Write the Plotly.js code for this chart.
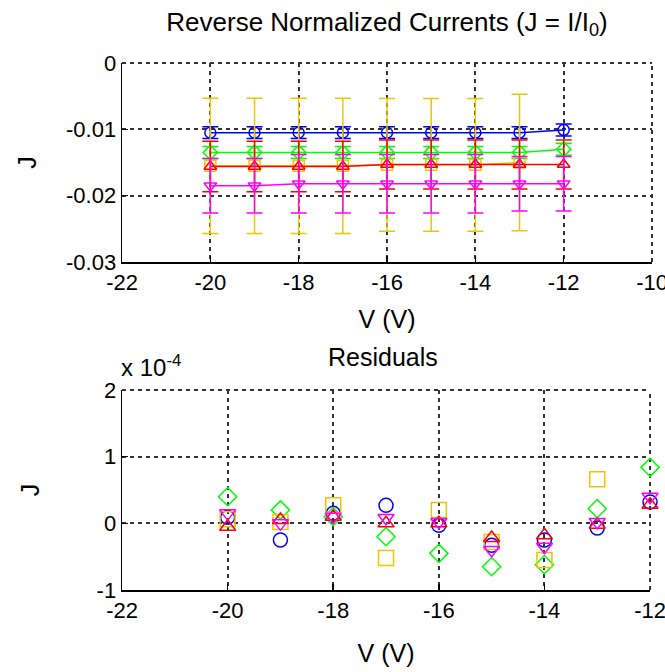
<!DOCTYPE html>
<html>
<head>
<meta charset="utf-8">
<script src="https://cdn.plot.ly/plotly-3.0.1.min.js"></script>
<style>html,body{margin:0;padding:0;background:#fff;}#chart{width:665px;height:672px;}</style>
</head>
<body>
<div id="chart"></div>
<script>
// ---- data ----
const voltage = [-20, -19, -18, -17, -16, -15, -14, -13, -12];
const voltageYellow = [-20, -19, -18, -17, -16, -15, -14, -13];

// Top: normalized currents J and their error bars
const jBlue    = [-0.0105, -0.0105, -0.0105, -0.0105, -0.0105, -0.0105, -0.0105, -0.0105, -0.0101];
const errBlue  = [0.0009, 0.0009, 0.0009, 0.0009, 0.0009, 0.0009, 0.0009, 0.0009, 0.0009];
const jGreen   = [-0.0135, -0.0135, -0.0135, -0.0135, -0.0135, -0.0135, -0.0135, -0.0135, -0.0130];
const errGreen = [0.0009, 0.0009, 0.0009, 0.0009, 0.0009, 0.0009, 0.0009, 0.0009, 0.0009];
const jYellow  = [-0.0155, -0.0155, -0.0155, -0.0155, -0.01535, -0.01535, -0.01535, -0.0150];
const errYellow= [0.0102, 0.0102, 0.0102, 0.0102, 0.0100, 0.0100, 0.0100, 0.0103];
const jRed     = [-0.0156, -0.0156, -0.0156, -0.0156, -0.0153, -0.0153, -0.0153, -0.0153, -0.0153];
const errRed   = [0.0038, 0.0038, 0.0038, 0.0038, 0.0037, 0.0037, 0.0037, 0.0037, 0.0037];
const jMagenta = [-0.0185, -0.0185, -0.0182, -0.0182, -0.0182, -0.0182, -0.0182, -0.0182, -0.0182];
const errMagenta=[0.0041, 0.0041, 0.0044, 0.0044, 0.0044, 0.0044, 0.0044, 0.0041, 0.0041];

// Bottom: residuals (in units of 1e-4)
const resBlue    = [0.09, -0.25, 0.15, 0.27, -0.03, -0.33, -0.25, -0.07, 0.32];
const resGreen   = [0.40, 0.20, 0.10, -0.20, -0.45, -0.65, -0.62, 0.22, 0.84];
const resYellow  = [0.06, 0.02, 0.27, -0.52, 0.20, -0.28, -0.55, 0.66];
const resRed     = [-0.05, 0.05, 0.10, 0.0, 0.0, -0.22, -0.18, -0.02, 0.28];
const resMagenta = [0.15, 0.0, 0.10, 0.08, 0.02, -0.40, -0.35, 0.02, 0.40];

// tick labels
const topXTicks = [-22, -20, -18, -16, -14, -12, -10];
const topXText  = ['-22', '-20', '-18', '-16', '-14', '-12', '-10'];
const topYTicks = [0, -0.01, -0.02, -0.03];
const topYText  = ['0', '-0.01', '-0.02', '-0.03'];
const botXTicks = [-22, -20, -18, -16, -14, -12];
const botXText  = ['-22', '-20', '-18', '-16', '-14', '-12'];
const botYTicks = [-1, 0, 1, 2];
const botYText  = ['-1', '0', '1', '2'];

// ---- styling ----
const C = {blue:'#0000ff', green:'#00ff00', yellow:'#ecc700', red:'#ff0000', magenta:'#ff00ff'};
const FONT = 'Liberation Sans, Arial, sans-serif';
const GRID = '#333';

function topTrace(x, y, err, color, symbol) {
  return {
    x: x, y: y, xaxis: 'x', yaxis: 'y', type: 'scatter', mode: 'lines+markers',
    line: {color: color, width: 1.5},
    marker: {symbol: symbol, size: 11, color: color, line: {color: color, width: 1.5}},
    error_y: {type: 'data', array: err, visible: true, color: color, thickness: 1.5, width: 8},
    showlegend: false, cliponaxis: false
  };
}
function botTrace(x, y, color, symbol, size) {
  return {
    x: x, y: y, xaxis: 'x2', yaxis: 'y2', type: 'scatter', mode: 'markers',
    marker: {symbol: symbol, size: size, color: color, line: {color: color, width: 1.5}},
    showlegend: false, cliponaxis: false
  };
}

const data = [
  topTrace(voltage, jBlue, errBlue, C.blue, 'circle-open'),
  topTrace(voltage, jGreen, errGreen, C.green, 'diamond-open'),
  topTrace(voltageYellow, jYellow, errYellow, C.yellow, 'square-open'),
  topTrace(voltage, jRed, errRed, C.red, 'triangle-up-open'),
  topTrace(voltage, jMagenta, errMagenta, C.magenta, 'triangle-down-open'),
  botTrace(voltage, resBlue, C.blue, 'circle-open', 14),
  botTrace(voltage, resGreen, C.green, 'diamond-open', 14),
  botTrace(voltageYellow, resYellow, C.yellow, 'square-open', 15),
  botTrace(voltage, resRed, C.red, 'triangle-up-open', 14),
  botTrace(voltage, resMagenta, C.magenta, 'triangle-down-open', 14)
];

const axisCommon = {
  showline: true, linecolor: '#000', linewidth: 1.5, mirror: false,
  ticks: 'inside', ticklen: 6, tickcolor: '#000', tickwidth: 1.5,
  showgrid: true, gridcolor: GRID, gridwidth: 2, griddash: '4px,4px',
  zeroline: false, tickfont: {family: FONT, size: 22, color: '#000'},
  ticklabeloverflow: 'allow', fixedrange: true
};

// dashed frame edges at top and right (MATLAB grid at the box edges)
function edge(xr, yr, x0, x1, y0, y1) {
  return {type: 'line', xref: xr, yref: yr, x0: x0, x1: x1, y0: y0, y1: y1,
          line: {color: GRID, width: 2, dash: '4px,4px'}, layer: 'below'};
}

const layout = {
  width: 665, height: 672,
  margin: {l: 0, r: 0, t: 0, b: 0},
  paper_bgcolor: '#fff', plot_bgcolor: '#fff',
  font: {family: FONT, size: 22, color: '#000'},
  title: {text: 'Reverse Normalized Currents (J = I/I<sub>0</sub>)', x: 0.582, xanchor: 'center', y: 0.968, yanchor: 'middle', font: {family: FONT, size: 26, color: '#000'}},
  xaxis: Object.assign({}, axisCommon, {
    domain: [0.1835, 0.9805], anchor: 'y', range: [-22, -10],
    tickmode: 'array', tickvals: topXTicks, ticktext: topXText,
    title: {text: 'V (V)', standoff: 16, font: {family: FONT, size: 25}}
  }),
  yaxis: Object.assign({}, axisCommon, {
    domain: [0.6101, 0.9063], anchor: 'x', range: [-0.03, 0],
    tickmode: 'array', tickvals: topYTicks, ticktext: topYText,
    title: {text: 'J', standoff: 22, font: {family: FONT, size: 25}}
  }),
  xaxis2: Object.assign({}, axisCommon, {
    domain: [0.1835, 0.9775], anchor: 'y2', range: [-22, -12],
    tickmode: 'array', tickvals: botXTicks, ticktext: botXText,
    title: {text: 'V (V)', standoff: 22, font: {family: FONT, size: 25}}
  }),
  yaxis2: Object.assign({}, axisCommon, {
    domain: [0.1220, 0.4196], anchor: 'x2', range: [-1, 2],
    tickmode: 'array', tickvals: botYTicks, ticktext: botYText,
    title: {text: 'J', standoff: 50, font: {family: FONT, size: 25}}
  }),
  shapes: [
    edge('x domain', 'y domain', 0, 1, 1, 1),
    edge('x domain', 'y domain', 1, 1, 0, 1),
    edge('x2 domain', 'y2 domain', 0, 1, 1, 1),
    edge('x2 domain', 'y2 domain', 1, 1, 0, 1)
  ],
  annotations: [
    {text: 'Residuals', xref: 'paper', yref: 'paper', x: 0.576, y: 1 - 357/672, xanchor: 'center', yanchor: 'middle', showarrow: false, font: {family: FONT, size: 25, color: '#000'}},
    {text: 'x 10<sup>-4</sup>', xref: 'paper', yref: 'paper', x: 119/665, y: 1 - 366/672, xanchor: 'left', yanchor: 'middle', showarrow: false, font: {family: FONT, size: 24, color: '#000'}}
  ]
};

Plotly.newPlot('chart', data, layout, {staticPlot: true, displayModeBar: false});
</script>
</body>
</html>
